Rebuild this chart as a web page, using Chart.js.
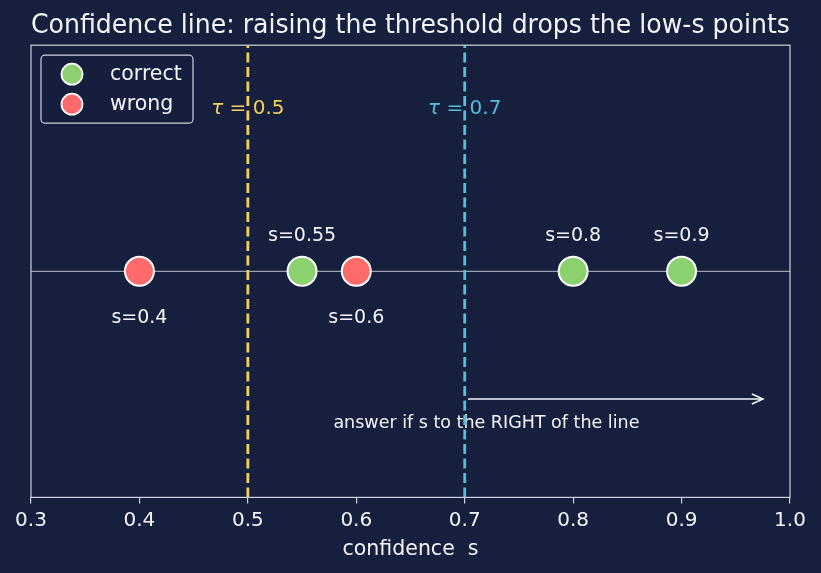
<!DOCTYPE html>
<html><head><meta charset="utf-8">
<script src="https://cdn.jsdelivr.net/npm/chart.js@4.4.1/dist/chart.umd.min.js"></script>
<style>html,body{margin:0;padding:0;background:#161f3d;} #wrap{width:821px;height:573px;}</style>
</head><body><div id="wrap"><canvas id="c" width="821" height="573"></canvas></div>
<script>
// ---- data ----
const chartTitle = 'Confidence line: raising the threshold drops the low-s points';
const xAxisTitle = 'confidence  s';
const scores = [0.4, 0.55, 0.6, 0.8, 0.9];
const outcomes = ['wrong', 'correct', 'wrong', 'correct', 'correct'];
const labelAbove = [false, true, false, true, true];
const thresholds = [0.5, 0.7];
const thresholdNames = ['0.5', '0.7'];
const xTicks = [0.3, 0.4, 0.5, 0.6, 0.7, 0.8, 0.9, 1.0];
const seriesNames = ['correct', 'wrong'];
const noteText = 'answer if s to the RIGHT of the line';

// ---- styles ----
const BG = '#161f3d', GREEN = '#8bd16f', RED = '#ff6b6b', YELLOW = '#f6cf57', CYAN = '#52c0dc';
const FRAME = '#cdd2e0', TEXT = '#f4f5f8', BASE = 'rgba(200,204,215,0.75)';
const FONT = "'DejaVu Sans', sans-serif";
const thrColors = [YELLOW, CYAN];
const seriesColors = [GREEN, RED];

const pointSets = seriesNames.map((name, k) => ({
  type: 'scatter', label: name, order: 0,
  data: scores.map((s, i) => outcomes[i] === name ? {x: s, y: 0} : null).filter(p => p),
  backgroundColor: seriesColors[k], borderColor: '#ffffff', borderWidth: 2,
  pointRadius: 14.5, pointHoverRadius: 14.5
}));
const baseLine = {
  type: 'line', label: 'base', order: 3,
  data: [{x: xTicks[0], y: 0}, {x: xTicks[xTicks.length - 1], y: 0}],
  borderColor: BASE, borderWidth: 1.2, pointRadius: 0
};
const thrSets = thresholds.map((t, i) => ({
  type: 'line', label: 'tau' + i, order: 2,
  data: [{x: t, y: -1}, {x: t, y: 1}],
  borderColor: thrColors[i], borderWidth: 2.8, borderDash: [10, 4.5], pointRadius: 0
}));

const decor = {
  id: 'decor',
  beforeDraw(chart) {
    const {ctx, width, height} = chart;
    ctx.save(); ctx.fillStyle = BG; ctx.fillRect(0, 0, width, height); ctx.restore();
  },
  beforeDatasetsDraw(chart) {
    const {ctx, scales: {x, y}} = chart;
    ctx.save();
    ctx.textAlign = 'center'; ctx.textBaseline = 'middle';
    ctx.fillStyle = TEXT; ctx.font = `19px ${FONT}`;
    const y0 = y.getPixelForValue(0);
    scores.forEach((s, i) => {
      ctx.fillText('s=' + s, x.getPixelForValue(s), y0 + (labelAbove[i] ? -35 : 47));
    });
    // threshold labels
    thresholds.forEach((t, i) => {
      const cx = x.getPixelForValue(t), cy = y.getPixelForValue(0.72);
      ctx.fillStyle = thrColors[i];
      ctx.font = `italic 20px ${FONT}`;
      const w1 = ctx.measureText('τ').width;
      ctx.font = `20px ${FONT}`;
      const rest = ' = ' + thresholdNames[i];
      const w2 = ctx.measureText(rest).width;
      const sx = cx - (w1 + w2) / 2;
      ctx.textAlign = 'left';
      ctx.font = `italic 20px ${FONT}`; ctx.fillText('τ', sx, cy);
      ctx.font = `20px ${FONT}`; ctx.fillText(rest, sx + w1, cy);
      ctx.textAlign = 'center';
    });
    ctx.fillStyle = TEXT; ctx.font = `17.5px ${FONT}`;
    ctx.fillText(noteText, x.getPixelForValue(0.72), y.getPixelForValue(-0.672));
    ctx.restore();
  },
  afterDatasetsDraw(chart) {
    const {ctx, chartArea: a, scales: {x, y}} = chart;
    ctx.save();
    // frame
    ctx.strokeStyle = FRAME; ctx.lineWidth = 1.2;
    ctx.strokeRect(a.left, a.top, a.right - a.left, a.bottom - a.top);
    // arrow
    const ax0 = x.getPixelForValue(0.703), ax1 = x.getPixelForValue(0.975), ay = y.getPixelForValue(-0.565);
    ctx.strokeStyle = '#f4f5f8'; ctx.lineWidth = 1.6;
    ctx.beginPath(); ctx.moveTo(ax0, ay); ctx.lineTo(ax1, ay); ctx.stroke();
    ctx.beginPath(); ctx.moveTo(ax1 - 11, ay - 5); ctx.lineTo(ax1, ay); ctx.lineTo(ax1 - 11, ay + 5); ctx.stroke();
    // legend
    const lx = a.left + 10, ly = a.top + 10, lw = 152, lh = 68;
    ctx.fillStyle = 'rgba(22,31,61,0.85)'; ctx.strokeStyle = FRAME; ctx.lineWidth = 1.2;
    ctx.beginPath(); ctx.roundRect(lx, ly, lw, lh, 4); ctx.fill(); ctx.stroke();
    ctx.font = `20.5px ${FONT}`; ctx.textAlign = 'left'; ctx.textBaseline = 'middle';
    seriesNames.forEach((name, k) => {
      const cy = ly + 19 + k * 30;
      ctx.beginPath(); ctx.arc(lx + 31, cy, 10.5, 0, Math.PI * 2);
      ctx.fillStyle = seriesColors[k]; ctx.fill();
      ctx.strokeStyle = '#ffffff'; ctx.lineWidth = 1.8; ctx.stroke();
      ctx.fillStyle = TEXT; ctx.fillText(name, lx + 69, cy);
    });
    ctx.restore();
  }
};

new Chart(document.getElementById('c'), {
  type: 'scatter',
  data: {datasets: [...pointSets, ...thrSets, baseLine]},
  options: {
    responsive: false, animation: false, devicePixelRatio: 1,
    layout: {padding: {left: 31, right: 31, top: 0, bottom: 11}},
    plugins: {
      legend: {display: false}, tooltip: {enabled: false},
      title: {display: true, text: chartTitle, color: TEXT,
        font: {family: FONT, size: 26, weight: 'normal'}, padding: {top: 11, bottom: 3}}
    },
    scales: {
      x: {
        type: 'linear', min: xTicks[0], max: xTicks[xTicks.length - 1],
        afterBuildTicks: s => { s.ticks = xTicks.map(v => ({value: v})); },
        ticks: {color: TEXT, font: {family: FONT, size: 20}, padding: 5,
          callback: v => Number(v).toFixed(1), maxRotation: 0, autoSkip: false},
        grid: {display: true, drawOnChartArea: false, drawTicks: true, tickLength: 6, color: FRAME, lineWidth: 1.2},
        border: {display: false},
        title: {display: true, text: xAxisTitle, color: TEXT, font: {family: FONT, size: 20.5}, padding: {top: 0, bottom: 0}}
      },
      y: {type: 'linear', min: -1, max: 1, display: false}
    }
  },
  plugins: [decor]
});
</script></body></html>
